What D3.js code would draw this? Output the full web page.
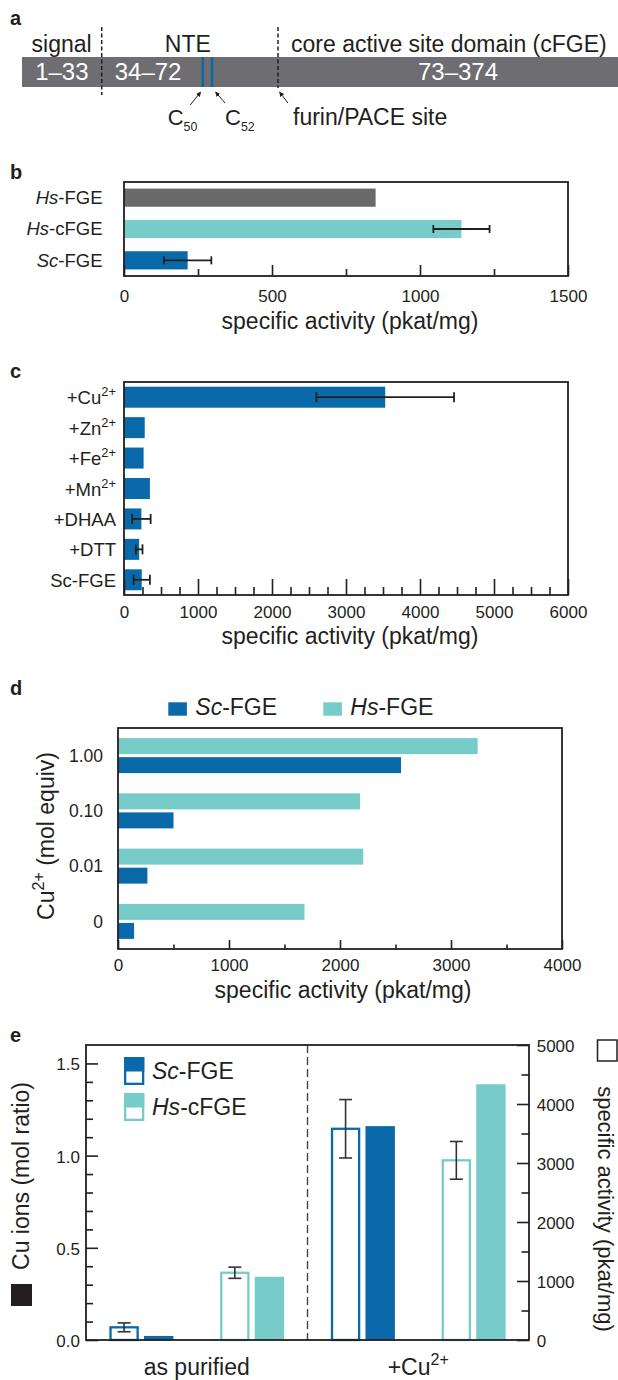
<!DOCTYPE html>
<html>
<head>
<meta charset="utf-8">
<script src="https://cdn.jsdelivr.net/npm/d3@7"></script>
<style>
  body { margin: 0; background: #fff; }
  svg { display: block; }
</style>
</head>
<body>
<div id="chart"></div>
<script>
// ---- data ----
// panel a: domain map of the enzyme
var regionNames = ["signal", "NTE", "core active site domain (cFGE)"];
var regionLabels = ["1–33", "34–72", "73–374"];
var regionEnds = [33, 72, 374];
var cysResidues = [50, 52];
var cysLabels = ["50", "52"];
var furinLabel = "furin/PACE site";

// panel b
var bEnzymes = ["<i>Hs</i>-FGE", "<i>Hs</i>-cFGE", "<i>Sc</i>-FGE"];
var bActivity = [850, 1140, 215];
var bError = [null, 95, 80];
var bTicks = [0, 500, 1000, 1500];

// panel c
var cConditions = ["+Cu<sup>2+</sup>", "+Zn<sup>2+</sup>", "+Fe<sup>2+</sup>", "+Mn<sup>2+</sup>", "+DHAA", "+DTT", "Sc-FGE"];
var cActivity = [3530, 280, 265, 350, 235, 205, 240];
var cError = [930, null, null, null, 125, 45, 110];
var cTicks = [0, 1000, 2000, 3000, 4000, 5000, 6000];

// panel d
var dCopper = ["1.00", "0.10", "0.01", "0"];
var dSc = [2550, 500, 265, 145];
var dHs = [3240, 2180, 2210, 1680];
var dTicks = [0, 1000, 2000, 3000, 4000];

// panel e
var eGroups = ["as purified", "+Cu<sup>2+</sup>"];
var eCuSc = [0.022, 1.16];
var eCuHs = [0.343, 1.387];
var eActSc = [215, 3580];
var eActScErr = [75, 495];
var eActHs = [1140, 3045];
var eActHsErr = [95, 320];
var eLeftTicks = [0, 0.5, 1.0, 1.5];
var eRightTicks = [0, 1000, 2000, 3000, 4000, 5000];

// ---- style ----
var FONT = "'Liberation Sans', Arial, Helvetica, sans-serif";
var INK = "#231f20";
var BLUE = "#0a69a8";
var TEAL = "#77cbc8";
var GREY = "#6a6a6b";
var GREY_A = "#6e6d72";
var TITLE = "specific activity (pkat/mg)";
var intFmt = d3.format("d");

var svg = d3.select("#chart").append("svg")
  .attr("width", 618).attr("height", 1380)
  .style("font-family", FONT);

// tiny markup: <i>..</i> italic, <sup>..</sup> superscript, <sub>..</sub> subscript
var rich = function (textSel, str, size) {
  var parts = str.split(/(<i>.*?<\/i>|<sup>.*?<\/sup>|<sub>.*?<\/sub>)/).filter(function (s) { return s; });
  var shift = 0;
  parts.forEach(function (p) {
    var t = textSel.append("tspan");
    if (p.indexOf("<i>") === 0) {
      t.style("font-style", "italic").text(p.slice(3, -4));
      if (shift) { t.attr("dy", -shift); shift = 0; }
    } else if (p.indexOf("<sup>") === 0) {
      t.attr("dy", -size * 0.42 - shift).style("font-size", (size * 0.7) + "px").text(p.slice(5, -6));
      shift = -size * 0.42;
    } else if (p.indexOf("<sub>") === 0) {
      t.attr("dy", size * 0.3 - shift).style("font-size", (size * 0.62) + "px").text(p.slice(5, -6));
      shift = size * 0.3;
    } else {
      t.text(p);
      if (shift) { t.attr("dy", -shift); shift = 0; }
    }
  });
};

var panelLetter = function (ch, x, y) {
  svg.append("text").attr("x", x).attr("y", y)
    .style("font-size", "20px").style("font-weight", "bold").attr("fill", INK).text(ch);
};

var frame = function (x0, y0, x1, y1) {
  svg.append("rect").attr("x", x0).attr("y", y0).attr("width", x1 - x0).attr("height", y1 - y0)
    .attr("fill", "none").attr("stroke", INK).attr("stroke-width", 1.8);
};

// inward ticks on the bottom edge, labels below
var bottomAxis = function (x, y, major, minor, majorLen, minorLen, pad) {
  var gm = svg.append("g").attr("transform", "translate(0," + y + ")")
    .call(d3.axisBottom(x).tickValues(minor).tickSize(-minorLen).tickFormat(""));
  gm.select(".domain").remove();
  gm.selectAll("line").attr("stroke", INK).attr("stroke-width", 1.6);
  var g = svg.append("g").attr("transform", "translate(0," + y + ")")
    .call(d3.axisBottom(x).tickValues(major).tickSize(-majorLen).tickPadding(pad).tickFormat(intFmt));
  g.select(".domain").remove();
  g.attr("font-family", null).attr("font-size", null);
  g.selectAll("line").attr("stroke", INK).attr("stroke-width", 1.6);
  g.selectAll("text").attr("fill", INK).style("font-size", "17px");
};

var errBar = function (cx0, cx1, cy, half) {
  var g = svg.append("g").attr("stroke", INK).attr("stroke-width", 1.8);
  g.append("line").attr("x1", cx0).attr("x2", cx1).attr("y1", cy).attr("y2", cy);
  g.append("line").attr("x1", cx0).attr("x2", cx0).attr("y1", cy - half).attr("y2", cy + half);
  g.append("line").attr("x1", cx1).attr("x2", cx1).attr("y1", cy - half).attr("y2", cy + half);
};

var vErrBar = function (cx, cy0, cy1, half) {
  var g = svg.append("g").attr("stroke", "#333").attr("stroke-width", 1.6);
  g.append("line").attr("x1", cx).attr("x2", cx).attr("y1", cy0).attr("y2", cy1);
  g.append("line").attr("x1", cx - half).attr("x2", cx + half).attr("y1", cy0).attr("y2", cy0);
  g.append("line").attr("x1", cx - half).attr("x2", cx + half).attr("y1", cy1).attr("y2", cy1);
};

// ================= panel a =================
var add_panel_a = function () {
  panelLetter("a", 10, 25);
  // schematic (not to scale) residue -> x
  var rx = d3.scaleLinear()
    .domain([0.5, regionEnds[0] + 0.5, cysResidues[0], cysResidues[1], regionEnds[1] + 0.5, regionEnds[2] + 0.5])
    .range([22, 101.7, 202.7, 212, 278, 638]);
  var y0 = 57, y1 = 87;

  svg.append("rect").attr("x", rx(0.5)).attr("y", y0)
    .attr("width", rx(regionEnds[2] + 0.5) - rx(0.5)).attr("height", y1 - y0).attr("fill", GREY_A);

  // region names above the bar
  var hdr = svg.append("g").style("font-size", "23px").attr("fill", INK);
  hdr.append("text").attr("x", rx(regionEnds[0] + 0.5) - 10).attr("y", 52)
    .attr("text-anchor", "end").text(regionNames[0]);
  hdr.append("text").attr("x", (rx(regionEnds[0] + 0.5) + rx(regionEnds[1] + 0.5)) / 2 - 2).attr("y", 52)
    .attr("text-anchor", "middle").text(regionNames[1]);
  hdr.append("text").attr("x", rx(regionEnds[1] + 0.5) + 13).attr("y", 52).text(regionNames[2]);

  // residue ranges on the bar
  var lab = svg.append("g").style("font-size", "24px").attr("fill", "#fff");
  lab.append("text").attr("x", (rx(0.5) + rx(regionEnds[0] + 0.5)) / 2).attr("y", 79.5)
    .attr("text-anchor", "middle").text(regionLabels[0]);
  lab.append("text").attr("x", rx(regionEnds[0] + 0.5) + 13).attr("y", 79.5).text(regionLabels[1]);
  lab.append("text").attr("x", (rx(regionEnds[1] + 0.5) + rx(regionEnds[2] + 0.5)) / 2).attr("y", 79.5)
    .attr("text-anchor", "middle").text(regionLabels[2]);

  // cysteines
  svg.selectAll("line.cys").data(cysResidues).enter().append("line")
    .attr("class", "cys")
    .attr("x1", function (d) { return rx(d); }).attr("x2", function (d) { return rx(d); })
    .attr("y1", y0).attr("y2", y1)
    .attr("stroke", BLUE).attr("stroke-width", 2.4);

  // region boundaries
  var bx1 = rx(regionEnds[0] + 0.5), bx2 = rx(regionEnds[1] + 0.5);
  svg.append("line").attr("x1", bx1).attr("x2", bx1).attr("y1", 27).attr("y2", 95)
    .attr("stroke", INK).attr("stroke-width", 1.5).attr("stroke-dasharray", "4,2.5");
  svg.append("line").attr("x1", bx2).attr("x2", bx2).attr("y1", 27).attr("y2", 88)
    .attr("stroke", INK).attr("stroke-width", 1.5).attr("stroke-dasharray", "4,2.5");

  // arrows
  svg.append("defs").append("marker").attr("id", "ah")
    .attr("viewBox", "0 0 10 10").attr("refX", 9).attr("refY", 5)
    .attr("markerWidth", 5).attr("markerHeight", 5).attr("markerUnits", "userSpaceOnUse")
    .attr("orient", "auto")
    .append("path").attr("d", "M0,0 L10,5 L0,10 z").attr("fill", INK);

  var arrows = [
    [rx(cysResidues[0]) - 12.5, 105, rx(cysResidues[0]) - 2, 92],
    [rx(cysResidues[1]) + 13, 103, rx(cysResidues[1]) + 3.5, 92],
    [bx2 + 10, 103, bx2 + 1.5, 92]
  ];
  svg.selectAll("line.arr").data(arrows).enter().append("line")
    .attr("class", "arr")
    .attr("x1", function (d) { return d[0]; }).attr("y1", function (d) { return d[1]; })
    .attr("x2", function (d) { return d[2]; }).attr("y2", function (d) { return d[3]; })
    .attr("stroke", INK).attr("stroke-width", 1).attr("marker-end", "url(#ah)");

  var c1 = svg.append("text").attr("x", rx(cysResidues[0]) - 35).attr("y", 125)
    .style("font-size", "22px").attr("fill", INK);
  rich(c1, "C<sub>" + cysLabels[0] + "</sub>", 20);
  var c2 = svg.append("text").attr("x", rx(cysResidues[1]) + 13).attr("y", 125)
    .style("font-size", "22px").attr("fill", INK);
  rich(c2, "C<sub>" + cysLabels[1] + "</sub>", 20);
  svg.append("text").attr("x", bx2 + 15).attr("y", 125)
    .style("font-size", "23px").attr("fill", INK).text(furinLabel);
};

// ================= panel b =================
var add_panel_b = function () {
  panelLetter("b", 10, 179);
  var x = d3.scaleLinear().domain([0, 1500]).range([124, 568]);
  var y = d3.scaleBand().domain(bEnzymes).range([182, 276]).paddingInner(0.42).paddingOuter(0.21);
  var colors = [GREY, TEAL, BLUE];

  svg.append("g").selectAll("rect").data(bEnzymes).enter().append("rect")
    .attr("x", x(0)).attr("y", function (d) { return y(d); })
    .attr("width", function (d, i) { return x(bActivity[i]) - x(0); })
    .attr("height", y.bandwidth())
    .attr("fill", function (d, i) { return colors[i]; });

  bEnzymes.forEach(function (d, i) {
    if (bError[i] !== null) {
      errBar(x(bActivity[i] - bError[i]), x(bActivity[i] + bError[i]), y(d) + y.bandwidth() / 2, 4);
    }
    var t = svg.append("text").attr("x", 102.5).attr("y", y(d) + y.bandwidth() / 2)
      .attr("dy", "0.35em").attr("text-anchor", "end").style("font-size", "18.5px").attr("fill", INK);
    rich(t, d, 18.5);
  });

  frame(124, 182, 568, 276);
  bottomAxis(x, 276, bTicks, [250, 750, 1250], 11, 7, 13.6);
  svg.append("text").attr("x", (124 + 568) / 2 + 4).attr("y", 329).attr("text-anchor", "middle")
    .style("font-size", "23px").attr("fill", INK).text(TITLE);
};

// ================= panel c =================
var add_panel_c = function () {
  panelLetter("c", 10, 378);
  var x = d3.scaleLinear().domain([0, 6000]).range([124, 568]);
  var y = d3.scaleBand().domain(cConditions).range([382, 595]).paddingInner(0.31).paddingOuter(0.155);

  svg.append("g").selectAll("rect").data(cConditions).enter().append("rect")
    .attr("x", x(0)).attr("y", function (d) { return y(d); })
    .attr("width", function (d, i) { return x(cActivity[i]) - x(0); })
    .attr("height", y.bandwidth())
    .attr("fill", BLUE);

  cConditions.forEach(function (d, i) {
    if (cError[i] !== null) {
      errBar(x(cActivity[i] - cError[i]), x(cActivity[i] + cError[i]), y(d) + y.bandwidth() / 2, 5);
    }
    var t = svg.append("text").attr("x", 116).attr("y", y(d) + y.bandwidth() / 2)
      .attr("dy", "0.38em").attr("text-anchor", "end").style("font-size", "18.5px").attr("fill", INK);
    rich(t, d, 18.5);
  });

  frame(124, 382, 568, 595);
  bottomAxis(x, 595, cTicks, d3.range(250, 6000, 250).filter(function (v) { return v % 1000; }), 16, 8, 11);
  svg.append("text").attr("x", (124 + 568) / 2 + 4).attr("y", 644).attr("text-anchor", "middle")
    .style("font-size", "23px").attr("fill", INK).text(TITLE);
};

// ================= panel d =================
var add_panel_d = function () {
  panelLetter("d", 10, 695);
  var x = d3.scaleLinear().domain([0, 4000]).range([118, 562]);
  var y = d3.scaleBand().domain(dCopper).range([728, 949]).paddingInner(0.3665).paddingOuter(0.183);
  var sub = d3.scaleBand().domain(["Hs", "Sc"]).range([0, y.bandwidth()]).paddingInner(0.16);
  var series = [
    { key: "Hs", values: dHs, color: TEAL },
    { key: "Sc", values: dSc, color: BLUE }
  ];

  series.forEach(function (s) {
    svg.append("g").selectAll("rect").data(dCopper).enter().append("rect")
      .attr("x", x(0)).attr("y", function (d) { return y(d) + sub(s.key); })
      .attr("width", function (d, i) { return x(s.values[i]) - x(0); })
      .attr("height", sub.bandwidth())
      .attr("fill", s.color);
  });

  svg.append("g").selectAll("text").data(dCopper).enter().append("text")
    .attr("x", 103).attr("y", function (d) { return y(d) + y.bandwidth() / 2; })
    .attr("dy", "0.36em").attr("text-anchor", "end")
    .style("font-size", "17.5px").attr("fill", INK)
    .text(function (d) { return d; });

  frame(118, 728, 562, 949);
  bottomAxis(x, 949, dTicks, [500, 1500, 2500, 3500], 9, 4.5, 10);
  svg.append("text").attr("x", (118 + 562) / 2 + 3).attr("y", 998).attr("text-anchor", "middle")
    .style("font-size", "23px").attr("fill", INK).text(TITLE);

  var yt = svg.append("text").attr("transform", "translate(54," + 836 + ") rotate(-90)")
    .attr("text-anchor", "middle").style("font-size", "23px").attr("fill", INK);
  rich(yt, "Cu<sup>2+</sup> (mol equiv)", 23);

  // legend
  var legend = [
    { label: "<i>Sc</i>-FGE", color: BLUE, x: 168.3 },
    { label: "<i>Hs</i>-FGE", color: TEAL, x: 323.3 }
  ];
  legend.forEach(function (l) {
    svg.append("rect").attr("x", l.x).attr("y", 702.3).attr("width", 18.6).attr("height", 13.4).attr("fill", l.color);
    var t = svg.append("text").attr("x", l.x + 27).attr("y", 715).style("font-size", "23px").attr("fill", INK);
    rich(t, l.label, 23);
  });
};

// ================= panel e =================
var add_panel_e = function () {
  panelLetter("e", 10, 1042);
  var left = 86, right = 529, top = 1045, bottom = 1340;
  var yL = d3.scaleLinear().domain([0, 1.6]).range([bottom, top]);
  var yR = d3.scaleLinear().domain([0, 5000]).range([bottom, top]);
  var pairs = ["0|Sc", "0|Hs", "1|Sc", "1|Hs"];
  var x = d3.scaleBand().domain(pairs).range([left, right]);
  var sub = d3.scaleBand().domain(["act", "cu"]).range([-32, 32]).paddingInner(0.15);

  var rows = [];
  eGroups.forEach(function (g, gi) {
    rows.push({ key: gi + "|Sc", color: BLUE, act: eActSc[gi], err: eActScErr[gi], cu: eCuSc[gi] });
    rows.push({ key: gi + "|Hs", color: TEAL, act: eActHs[gi], err: eActHsErr[gi], cu: eCuHs[gi] });
  });

  var cx = function (k) { return x(k) + x.bandwidth() / 2; };
  var sw = 2.3;

  rows.forEach(function (r) {
    var c = cx(r.key);
    // specific activity: open bar, right axis
    svg.append("rect")
      .attr("x", c + sub("act") + sw / 2).attr("y", yR(r.act))
      .attr("width", sub.bandwidth() - sw).attr("height", yR(0) - yR(r.act))
      .attr("fill", "#fff").attr("stroke", r.color).attr("stroke-width", sw);
    // Cu content: filled bar, left axis
    svg.append("rect")
      .attr("x", c + sub("cu")).attr("y", yL(r.cu))
      .attr("width", sub.bandwidth()).attr("height", yL(0) - yL(r.cu))
      .attr("fill", r.color);
    vErrBar(c + sub("act") + sub.bandwidth() / 2, yR(r.act + r.err), yR(r.act - r.err), 6.5);
  });

  // divider
  var dx = x(pairs[2]);
  svg.append("line").attr("x1", dx).attr("x2", dx).attr("y1", top).attr("y2", bottom)
    .attr("stroke", "#444").attr("stroke-width", 1.4).attr("stroke-dasharray", "8,4");

  frame(left, top, right, bottom);

  // left axis
  var lMinor = d3.range(1, 16).map(function (v) { return v / 10; }).filter(function (v, i) { return (i + 1) % 5; });
  var gl = svg.append("g").attr("transform", "translate(" + left + ",0)")
    .call(d3.axisLeft(yL).tickValues(lMinor).tickSize(-7).tickFormat(""));
  gl.select(".domain").remove();
  gl.selectAll("line").attr("stroke", INK).attr("stroke-width", 1.6);
  var gL = svg.append("g").attr("transform", "translate(" + left + ",0)")
    .call(d3.axisLeft(yL).tickValues(eLeftTicks).tickSize(-12).tickPadding(6).tickFormat(d3.format(".1f")));
  gL.select(".domain").remove();
  gL.attr("font-family", null).attr("font-size", null);
  gL.selectAll("line").attr("stroke", INK).attr("stroke-width", 1.6);
  gL.selectAll("text").attr("fill", INK).attr("dy", "0.38em").style("font-size", "17px");

  // right axis
  var gr = svg.append("g").attr("transform", "translate(" + right + ",0)")
    .call(d3.axisRight(yR).tickValues([500, 1500, 2500, 3500, 4500]).tickSize(-7.5).tickFormat(""));
  gr.select(".domain").remove();
  gr.selectAll("line").attr("stroke", INK).attr("stroke-width", 1.6);
  var gR = svg.append("g").attr("transform", "translate(" + right + ",0)")
    .call(d3.axisRight(yR).tickValues(eRightTicks).tickSize(-12).tickPadding(7.7).tickFormat(intFmt));
  gR.select(".domain").remove();
  gR.attr("font-family", null).attr("font-size", null);
  gR.selectAll("line").attr("stroke", INK).attr("stroke-width", 1.6);
  gR.selectAll("text").attr("fill", INK).attr("dy", "0.38em").style("font-size", "17px");

  // group labels
  eGroups.forEach(function (g, gi) {
    var mid = (cx(gi + "|Sc") + cx(gi + "|Hs")) / 2;
    var t = svg.append("text").attr("x", mid).attr("y", 1375).attr("text-anchor", "middle")
      .style("font-size", "23px").attr("fill", INK);
    rich(t, g, 23);
  });

  // axis titles with their key squares
  svg.append("text").attr("transform", "translate(28.5,1176) rotate(-90)")
    .attr("text-anchor", "middle").style("font-size", "23px").attr("fill", INK)
    .text("Cu ions (mol ratio)");
  svg.append("rect").attr("x", 11).attr("y", 1284).attr("width", 21).attr("height", 22).attr("fill", INK);

  svg.append("text").attr("transform", "translate(597.5,1209) rotate(90)")
    .attr("text-anchor", "middle").style("font-size", "22px").attr("fill", INK)
    .text(TITLE);
  svg.append("rect").attr("x", 597.5).attr("y", 1040).attr("width", 19.5).attr("height", 21)
    .attr("fill", "#fff").attr("stroke", INK).attr("stroke-width", 1.5);

  // legend
  var legend = [
    { label: "<i>Sc</i>-FGE", color: BLUE, y: 1057 },
    { label: "<i>Hs</i>-cFGE", color: TEAL, y: 1093 }
  ];
  legend.forEach(function (l) {
    svg.append("rect").attr("x", 124 + sw / 2).attr("y", l.y + sw / 2)
      .attr("width", 20.3 - sw).attr("height", 28 - sw)
      .attr("fill", "#fff").attr("stroke", l.color).attr("stroke-width", sw);
    svg.append("rect").attr("x", 124).attr("y", l.y).attr("width", 20.3).attr("height", 14.5).attr("fill", l.color);
    var t = svg.append("text").attr("x", 152).attr("y", l.y + 21.5).style("font-size", "23px").attr("fill", INK);
    rich(t, l.label, 23);
  });
};

add_panel_a();
add_panel_b();
add_panel_c();
add_panel_d();
add_panel_e();
</script>
</body>
</html>
